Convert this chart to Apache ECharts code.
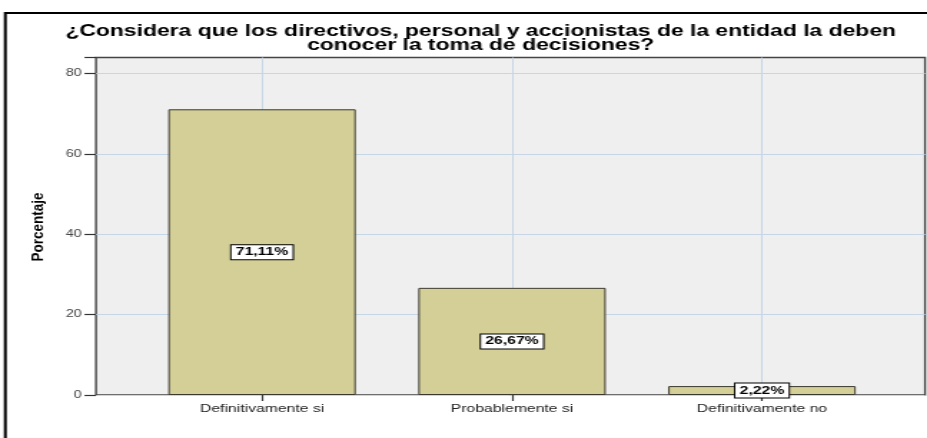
<!DOCTYPE html>
<html>
<head>
<meta charset="utf-8">
<script src="https://cdn.jsdelivr.net/npm/echarts@6/dist/echarts.min.js"></script>
<style>
  html, body { margin: 0; padding: 0; background: #fff; }
  #wrap { width: 927px; height: 438px; overflow: hidden; background: #fff; }
  /* the chart is laid out narrow and widened horizontally, like the exported figure */
  #chart { width: 648px; height: 438px; transform: scaleX(1.4306); transform-origin: 0 0; }
</style>
</head>
<body>
<div id="wrap"><div id="chart"></div></div>
<script>
const titleText = '¿Considera que los directivos, personal y accionistas de la entidad la deben\nconocer la toma de decisiones?';
const yName = 'Porcentaje';
const categories = ['Definitivamente si', 'Probablemente si', 'Definitivamente no'];
const percentages = [71.11, 26.67, 2.22];
const yTicks = [0, 20, 40, 60, 80];
const yMax = 84;

const fmtPct = v => v.toFixed(2).replace('.', ',') + '%';

const chart = echarts.init(document.getElementById('chart'), null, { renderer: 'canvas' });

chart.setOption({
  animation: false,
  backgroundColor: '#fff',
  title: {
    text: titleText,
    left: 331,
    top: 20,
    textAlign: 'center',
    textStyle: {
      fontFamily: 'Liberation Sans',
      fontWeight: 'bold',
      fontSize: 16,
      lineHeight: 13.6,
      color: '#000'
    }
  },
  graphic: [
    {
      // outer frame
      type: 'rect',
      z: 100,
      silent: true,
      shape: { x: 3.7, y: 13, width: 700, height: 500 },
      style: { fill: null, stroke: '#000', lineWidth: 2 }
    },
    {
      // value axis title, kept slim so it reads as a condensed face after widening
      type: 'text',
      silent: true,
      x: 27,
      y: 227,
      rotation: Math.PI / 2,
      scaleY: 0.8,
      style: {
        text: yName,
        fontFamily: 'Liberation Sans',
        fontWeight: 'bold',
        fontSize: 13.5,
        fill: '#000',
        align: 'center',
        verticalAlign: 'middle'
      }
    }
  ],
  grid: [
    // frame, background and value scale
    {
      left: 67.1, right: 1.4, top: 57.5, bottom: 43,
      show: true, backgroundColor: '#efefef', borderColor: '#444', borderWidth: 1.4
    },
    // category bands for the bars
    {
      left: 95.8, right: 28, top: 57.5, bottom: 43
    }
  ],
  xAxis: [
    { gridIndex: 0, type: 'value', show: false, min: 0, max: 1 },
    {
      gridIndex: 1,
      type: 'category',
      data: categories,
      axisLine: { show: false },
      axisTick: { show: true, alignWithLabel: true, length: 6, lineStyle: { color: '#333', width: 1.2 } },
      splitLine: { show: true, alignWithLabel: true, lineStyle: { color: '#c6d6e6', width: 1 } },
      axisLabel: {
        margin: 8,
        fontFamily: 'Liberation Sans',
        fontSize: 11,
        color: '#222'
      }
    }
  ],
  yAxis: [
    {
      gridIndex: 0,
      type: 'value',
      min: 0,
      max: yMax,
      interval: 20,
      axisLine: { show: false },
      axisTick: { show: true, length: 8, lineStyle: { color: '#333', width: 1.2 } },
      axisLabel: {
        margin: 10,
        fontFamily: 'Liberation Sans',
        fontSize: 10,
        color: '#444',
        formatter: v => (yTicks.indexOf(v) >= 0 ? String(v) : '')
      },
      splitLine: { show: true, showMaxLine: false, lineStyle: { color: '#c6d6e6', width: 1 } }
    },
    { gridIndex: 1, type: 'value', min: 0, max: yMax, show: false }
  ],
  series: [{
    type: 'bar',
    xAxisIndex: 1,
    yAxisIndex: 1,
    barWidth: '75%',
    data: percentages,
    itemStyle: { color: '#d3cf97', borderColor: '#3b3a30', borderWidth: 1 },
    label: {
      show: true,
      position: 'inside',
      formatter: p => fmtPct(p.value),
      fontFamily: 'Liberation Sans',
      fontWeight: 'bold',
      fontSize: 11,
      color: '#000',
      backgroundColor: '#fff',
      borderColor: '#000',
      borderWidth: 1,
      padding: [2, 3, 1, 3]
    }
  }]
});
</script>
</body>
</html>
